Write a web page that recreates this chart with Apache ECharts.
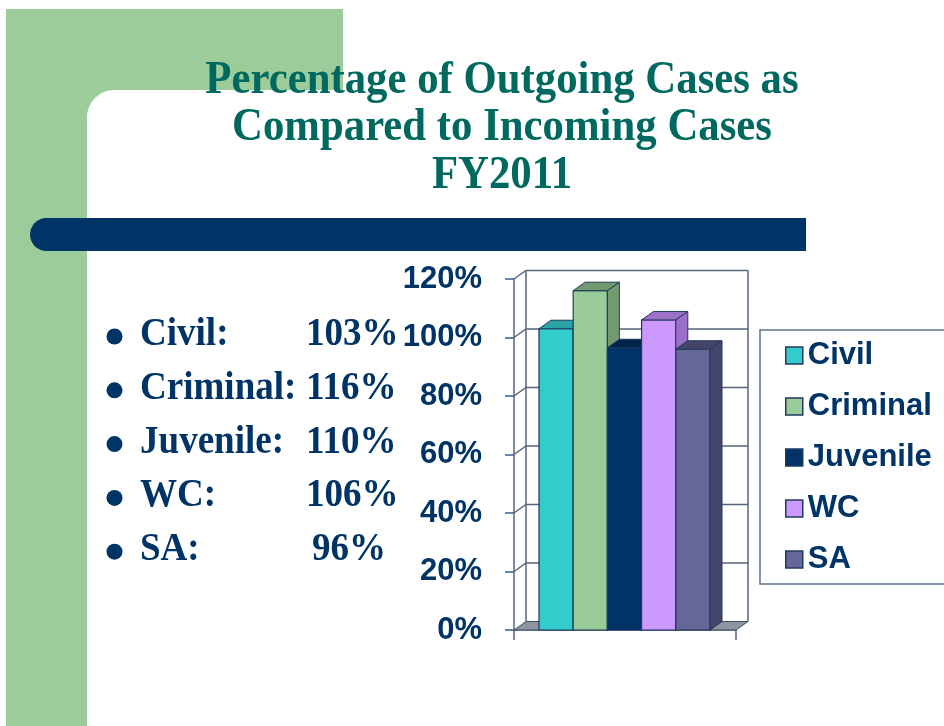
<!DOCTYPE html>
<html>
<head>
<meta charset="utf-8">
<script src="https://cdn.jsdelivr.net/npm/echarts@6/dist/echarts.min.js"></script>
<style>
  html, body { margin: 0; padding: 0; background: #fff; }
  #chart { width: 944px; height: 726px; }
</style>
</head>
<body>
<div id="chart"></div>
<script>
// data
const categories = ['Civil', 'Criminal', 'Juvenile', 'WC', 'SA'];
const barValues = [103, 116, 96.5, 106, 96];
const bulletLabels = ['Civil:', 'Criminal:', 'Juvenile:', 'WC:', 'SA:'];
const bulletValues = ['103%', '116%', '110%', '106%', '96%'];
const yTicks = [0, 20, 40, 60, 80, 100, 120];

const frontColors = ['#33CCCC', '#99CC99', '#003366', '#CC99FF', '#666699'];
const shadeColors = ['#27A3A3', '#739A6F', '#00254A', '#9C70C8', '#45456B'];

const NAVY = '#003366';
const TEAL = '#00695F';
const GREEN = '#9BCC9A';
const FRAME = '#56667E';
const EDGE = '#1F3A5F';
const DEPTH_X = 12;
const DEPTH_Y = -8.5;

function renderFrame(params, api) {
  const cs = params.coordSys;
  const v = api.value(1);
  const y = api.coord([0, v])[1];
  const x0 = cs.x;
  const x1 = cs.x + cs.width;
  const children = [];
  if (v === yTicks[0]) {
    children.push({
      type: 'polygon',
      shape: { points: [[x0, y], [x1, y], [x1 + DEPTH_X, y + DEPTH_Y], [x0 + DEPTH_X, y + DEPTH_Y]] },
      style: { fill: '#8E959E', stroke: '#3F4F66', lineWidth: 1 }
    });
  } else {
    children.push({
      type: 'polyline',
      shape: { points: [[x0, y], [x0 + DEPTH_X, y + DEPTH_Y], [x1 + DEPTH_X, y + DEPTH_Y]] },
      style: { fill: null, stroke: FRAME, lineWidth: 1.5 }
    });
  }
  if (v === yTicks[yTicks.length - 1]) {
    const yb = api.coord([0, yTicks[0]])[1];
    children.push({
      type: 'line',
      shape: { x1: x0 + DEPTH_X, y1: y + DEPTH_Y, x2: x0 + DEPTH_X, y2: yb + DEPTH_Y },
      style: { stroke: FRAME, lineWidth: 1.5 }
    });
    children.push({
      type: 'line',
      shape: { x1: x1 + DEPTH_X, y1: y + DEPTH_Y, x2: x1 + DEPTH_X, y2: yb + DEPTH_Y },
      style: { stroke: FRAME, lineWidth: 1.5 }
    });
  }
  return { type: 'group', children: children };
}

function renderBar(idx) {
  return function (params, api) {
    const x = api.value(0);
    const v = api.value(1);
    const bl = api.coord([x - 0.5, 0]);
    const tr = api.coord([x + 0.5, v]);
    const L = bl[0], B = bl[1], R = tr[0], T = tr[1];
    const shade = shadeColors[idx];
    return {
      type: 'group',
      children: [
        {
          type: 'rect',
          shape: { x: L, y: T, width: R - L, height: B - T },
          style: { fill: frontColors[idx], stroke: EDGE, lineWidth: 1.2 }
        },
        {
          type: 'polygon',
          shape: { points: [[L, T], [R, T], [R + DEPTH_X, T + DEPTH_Y], [L + DEPTH_X, T + DEPTH_Y]] },
          style: { fill: shade, stroke: EDGE, lineWidth: 1 }
        },
        {
          type: 'polygon',
          shape: { points: [[R, T], [R + DEPTH_X, T + DEPTH_Y], [R + DEPTH_X, B + DEPTH_Y], [R, B]] },
          style: { fill: shade, stroke: EDGE, lineWidth: 1 }
        }
      ]
    };
  };
}

const chart = echarts.init(document.getElementById('chart'));

function titleLine(text, y) {
  return {
    type: 'text', x: 502, y: y, scaleX: 0.93,
    style: { text: text, fontFamily: 'Liberation Serif', fontWeight: 'bold', fontSize: 46, fill: TEAL, align: 'center', verticalAlign: 'middle' }
  };
}

const graphics = [
  // slide decoration
  { type: 'rect', z: -10, shape: { x: 6, y: 9, width: 337, height: 120 }, style: { fill: GREEN } },
  { type: 'rect', z: -10, shape: { x: 6, y: 9, width: 81, height: 717 }, style: { fill: GREEN } },
  { type: 'rect', z: -9, shape: { x: 87, y: 90, width: 900, height: 700, r: [27, 0, 0, 0] }, style: { fill: '#fff' } },
  { type: 'rect', z: -8, shape: { x: 30, y: 218, width: 776, height: 33, r: [16.5, 0, 0, 16.5] }, style: { fill: NAVY } },
  titleLine('Percentage of Outgoing Cases as', 81),
  titleLine('Compared to Incoming Cases', 128),
  titleLine('FY2011', 176)
];

bulletLabels.forEach(function (label, i) {
  const y = 335 + i * 53.8;
  graphics.push({ type: 'circle', shape: { cx: 114.5, cy: y + 1.5, r: 8 }, style: { fill: NAVY } });
  graphics.push({
    type: 'text', x: 140, y: y, scaleX: 0.95,
    style: { text: label, fontFamily: 'Liberation Serif', fontWeight: 'bold', fontSize: 39, fill: NAVY, verticalAlign: 'middle' }
  });
  graphics.push({
    type: 'text', x: bulletValues[i].length < 4 ? 312 : 306, y: y, scaleX: 0.95,
    style: { text: bulletValues[i], fontFamily: 'Liberation Serif', fontWeight: 'bold', fontSize: 39, fill: NAVY, verticalAlign: 'middle' }
  });
});

const option = {
  backgroundColor: '#fff',
  animation: false,
  graphic: graphics,
  grid: { left: 514, top: 279, width: 222, height: 351 },
  legend: {
    data: categories,
    orient: 'vertical',
    left: 760,
    top: 330,
    icon: 'rect',
    itemWidth: 17,
    itemHeight: 17,
    itemGap: 20,
    padding: [10, 40, 9, 25],
    borderColor: '#5C7393',
    borderWidth: 1.5,
    selectedMode: false,
    itemStyle: { borderColor: EDGE, borderWidth: 1.5 },
    textStyle: { fontFamily: 'Liberation Sans', fontWeight: 'bold', fontSize: 31, lineHeight: 30, color: NAVY }
  },
  xAxis: [
    { type: 'value', min: -1.23, max: 5.26, show: false },
    {
      type: 'category',
      data: [''],
      position: 'bottom',
      axisLine: { show: true, onZero: false, lineStyle: { color: FRAME, width: 1.5 } },
      axisTick: { show: true, length: 10, lineStyle: { color: FRAME, width: 1.5 } },
      axisLabel: { show: false },
      splitLine: { show: false }
    }
  ],
  yAxis: {
    type: 'value',
    min: 0,
    max: 120,
    interval: 20,
    axisLine: { show: true, onZero: false, lineStyle: { color: FRAME, width: 1.5 } },
    axisTick: { show: true, length: 9, lineStyle: { color: '#3A5C8C', width: 1.5 } },
    axisLabel: {
      formatter: '{value}%',
      margin: 32,
      fontFamily: 'Liberation Sans',
      fontWeight: 'bold',
      fontSize: 31,
      color: NAVY
    },
    splitLine: { show: false }
  },
  series: [
    {
      name: 'frame',
      type: 'custom',
      xAxisIndex: 0,
      z: 1,
      silent: true,
      data: yTicks.map(function (v) { return [0, v]; }),
      renderItem: renderFrame
    }
  ].concat(categories.map(function (name, i) {
    return {
      name: name,
      type: 'custom',
      xAxisIndex: 0,
      z: 3,
      itemStyle: { color: frontColors[i], borderColor: EDGE },
      data: [[i, barValues[i]]],
      renderItem: renderBar(i)
    };
  }))
};

chart.setOption(option);
</script>
</body>
</html>
